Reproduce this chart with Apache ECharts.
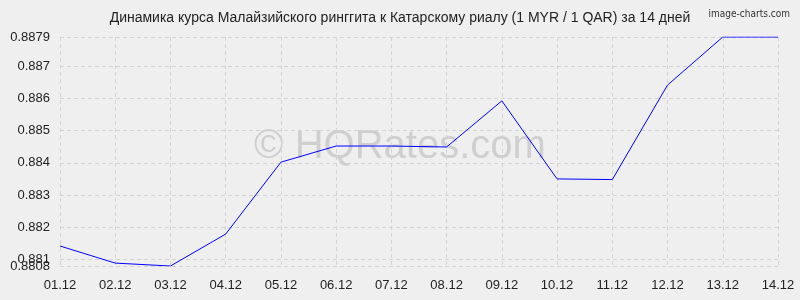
<!DOCTYPE html>
<html><head><meta charset="utf-8">
<script src="https://cdn.jsdelivr.net/npm/echarts@6/dist/echarts.min.js"></script>
<style>html,body{margin:0;padding:0;background:#efefef}#c{width:800px;height:300px}</style>
</head><body><div id="c"></div>
<script>
const categories = ['01.12','02.12','03.12','04.12','05.12','06.12','07.12','08.12','09.12','10.12','11.12','12.12','13.12','14.12'];
const values = [0.88142,0.88089,0.8808,0.88179,0.88402,0.88452,0.88452,0.88449,0.88592,0.8835,0.88348,0.88641,0.8879,0.8879];
const yMin = 0.8808, yMax = 0.8879;
const yTicks = [0.881,0.882,0.883,0.884,0.885,0.886,0.887,0.8879];
const yMinTick = [0.8808];
const titleText = 'Динамика курса Малайзийского ринггита к Катарскому риалу (1 MYR / 1 QAR) за 14 дней';

const chart = echarts.init(document.getElementById('c'), null, {renderer:'canvas'});
const fmt = v => String(parseFloat(Number(v).toFixed(4)));
const lblStyle = {formatter:fmt,hideOverlap:false,color:'#222',fontFamily:'Liberation Sans',fontSize:13,margin:10};
const split = {show:true,showMinLine:true,showMaxLine:true,lineStyle:{color:'#d4d4d4',type:[4,3]}};
chart.setOption({
  backgroundColor:'#efefef',
  animation:false,
  title:[{text:titleText,left:'center',top:6,textStyle:{fontFamily:'Liberation Sans',fontSize:14,fontWeight:'normal',color:'#222'}},
         {text:'image-charts.com',right:5,top:4,textStyle:{fontFamily:'DejaVu Sans Condensed',fontSize:10,fontWeight:'normal',color:'#333'}}],
  graphic:[{type:'text',left:'center',top:127,z:-1,style:{text:'© HQRates.com',font:'40px Liberation Sans',fill:'#cfcfcf'}}],
  grid:{left:60,right:22,top:37,bottom:34,containLabel:false},
  xAxis:{type:'category',data:categories,boundaryGap:false,
    axisLine:{show:false},axisTick:{show:false},
    axisLabel:{color:'#222',fontFamily:'Liberation Sans',fontSize:13,margin:13},
    splitLine:{show:true,lineStyle:{color:'#d4d4d4',type:[4,3]}}},
  yAxis:[
    {type:'value',min:yMin,max:yMax,position:'left',
     axisLine:{show:false},axisTick:{show:false,customValues:yTicks},
     axisLabel:Object.assign({customValues:yTicks},lblStyle),
     splitLine:split},
    {type:'value',min:yMin,max:yMax,position:'left',offset:0,
     axisLine:{show:false},axisTick:{show:false,customValues:yMinTick},
     axisLabel:Object.assign({customValues:yMinTick,showMinLabel:true},lblStyle),
     splitLine:split}
  ],
  series:[{type:'line',data:values,yAxisIndex:0,symbol:'none',lineStyle:{color:'#0000ff',width:1},z:3}]
});
</script></body></html>
